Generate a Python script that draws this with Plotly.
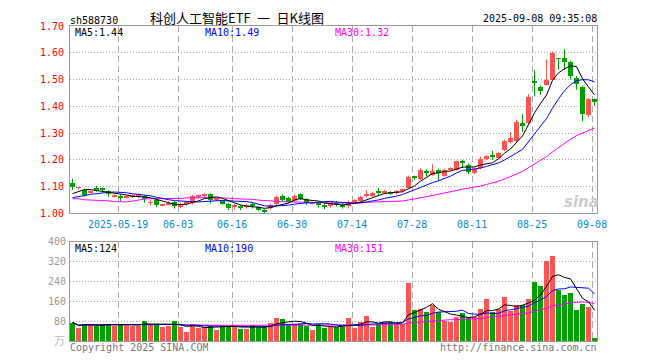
import plotly.graph_objects as go
import pandas as pd

# ---------------- data ----------------
dates = [
    "2025-05-07", "2025-05-08", "2025-05-09", "2025-05-12", "2025-05-13", "2025-05-14", "2025-05-15", "2025-05-16",
    "2025-05-19", "2025-05-20", "2025-05-21", "2025-05-22", "2025-05-23", "2025-05-26", "2025-05-27", "2025-05-28",
    "2025-05-29", "2025-05-30", "2025-06-03", "2025-06-04", "2025-06-05", "2025-06-06", "2025-06-09", "2025-06-10",
    "2025-06-11", "2025-06-12", "2025-06-13", "2025-06-16", "2025-06-17", "2025-06-18", "2025-06-19", "2025-06-20",
    "2025-06-23", "2025-06-24", "2025-06-25", "2025-06-26", "2025-06-27", "2025-06-30", "2025-07-01", "2025-07-02",
    "2025-07-03", "2025-07-04", "2025-07-07", "2025-07-08", "2025-07-09", "2025-07-10", "2025-07-11", "2025-07-14",
    "2025-07-15", "2025-07-16", "2025-07-17", "2025-07-18", "2025-07-21", "2025-07-22", "2025-07-23", "2025-07-24",
    "2025-07-25", "2025-07-28", "2025-07-29", "2025-07-30", "2025-07-31", "2025-08-01", "2025-08-04", "2025-08-05",
    "2025-08-06", "2025-08-07", "2025-08-08", "2025-08-11", "2025-08-12", "2025-08-13", "2025-08-14", "2025-08-15",
    "2025-08-18", "2025-08-19", "2025-08-20", "2025-08-21", "2025-08-22", "2025-08-25", "2025-08-26", "2025-08-27",
    "2025-08-28", "2025-08-29", "2025-09-01", "2025-09-02", "2025-09-03", "2025-09-04", "2025-09-05", "2025-09-08",
]

opens = [
    1.114, 1.095, 1.089, 1.079, 1.095, 1.090, 1.083, 1.062, 1.065, 1.061,
    1.062, 1.063, 1.065, 1.039, 1.049, 1.030, 1.034, 1.043, 1.023, 1.036,
    1.040, 1.063, 1.066, 1.073, 1.051, 1.048, 1.037, 1.025, 1.029, 1.026,
    1.034, 1.025, 1.008, 1.022, 1.034, 1.065, 1.059, 1.047, 1.071, 1.053,
    1.036, 1.036, 1.030, 1.026, 1.036, 1.030, 1.028, 1.045, 1.047, 1.068,
    1.065, 1.081, 1.080, 1.077, 1.078, 1.085, 1.096, 1.137, 1.129, 1.155,
    1.144, 1.162, 1.141, 1.165, 1.164, 1.197, 1.181, 1.151, 1.170, 1.202,
    1.215, 1.206, 1.238, 1.267, 1.270, 1.339, 1.338, 1.493, 1.472, 1.480,
    1.499, 1.579, 1.581, 1.567, 1.504, 1.472, 1.368, 1.426,
]
closes = [
    1.099, 1.097, 1.067, 1.081, 1.084, 1.088, 1.072, 1.064, 1.057, 1.063,
    1.064, 1.071, 1.053, 1.041, 1.031, 1.032, 1.039, 1.028, 1.035, 1.038,
    1.066, 1.066, 1.073, 1.050, 1.054, 1.037, 1.022, 1.027, 1.019, 1.029,
    1.029, 1.012, 1.006, 1.031, 1.063, 1.049, 1.044, 1.065, 1.055, 1.040,
    1.039, 1.033, 1.027, 1.038, 1.033, 1.027, 1.043, 1.047, 1.063, 1.071,
    1.077, 1.079, 1.083, 1.075, 1.080, 1.088, 1.136, 1.135, 1.163, 1.153,
    1.157, 1.150, 1.163, 1.167, 1.195, 1.189, 1.153, 1.165, 1.203, 1.214,
    1.212, 1.226, 1.270, 1.283, 1.341, 1.328, 1.436, 1.490, 1.457, 1.500,
    1.601, 1.577, 1.567, 1.512, 1.485, 1.372, 1.428, 1.417,
]
highs = [
    1.130, 1.099, 1.093, 1.087, 1.103, 1.097, 1.087, 1.071, 1.071, 1.068,
    1.071, 1.075, 1.068, 1.050, 1.053, 1.037, 1.045, 1.047, 1.040, 1.046,
    1.070, 1.071, 1.075, 1.075, 1.058, 1.050, 1.040, 1.035, 1.032, 1.035,
    1.042, 1.027, 1.016, 1.036, 1.066, 1.071, 1.062, 1.070, 1.075, 1.056,
    1.043, 1.043, 1.037, 1.042, 1.047, 1.040, 1.048, 1.053, 1.066, 1.087,
    1.080, 1.096, 1.088, 1.083, 1.087, 1.093, 1.141, 1.141, 1.169, 1.165,
    1.185, 1.167, 1.167, 1.173, 1.197, 1.200, 1.186, 1.173, 1.212, 1.217,
    1.234, 1.230, 1.275, 1.304, 1.350, 1.371, 1.445, 1.535, 1.478, 1.575,
    1.605, 1.580, 1.613, 1.570, 1.513, 1.477, 1.431, 1.429,
]
lows = [
    1.087, 1.090, 1.062, 1.074, 1.080, 1.078, 1.062, 1.059, 1.045, 1.057,
    1.058, 1.058, 1.040, 1.030, 1.023, 1.026, 1.030, 1.018, 1.020, 1.030,
    1.033, 1.055, 1.058, 1.037, 1.046, 1.033, 1.012, 1.015, 1.012, 1.018,
    1.018, 1.008, 1.001, 1.015, 1.030, 1.043, 1.040, 1.042, 1.050, 1.031,
    1.033, 1.022, 1.016, 1.022, 1.026, 1.018, 1.018, 1.040, 1.045, 1.059,
    1.062, 1.068, 1.074, 1.070, 1.070, 1.077, 1.092, 1.124, 1.125, 1.139,
    1.139, 1.122, 1.137, 1.160, 1.160, 1.169, 1.147, 1.147, 1.165, 1.198,
    1.200, 1.203, 1.232, 1.261, 1.264, 1.305, 1.330, 1.437, 1.443, 1.478,
    1.497, 1.537, 1.537, 1.500, 1.462, 1.344, 1.360, 1.402,
]
volumes = [
    75, 52, 69, 66, 62, 66, 69, 60, 69, 69,
    62, 62, 82, 69, 69, 56, 62, 82, 56, 38,
    70, 52, 56, 62, 46, 62, 62, 65, 49, 49,
    66, 56, 56, 75, 95, 91, 69, 69, 69, 62,
    46, 69, 52, 62, 55, 58, 94, 52, 79, 102,
    58, 69, 79, 79, 69, 69, 233, 126, 131, 118,
    146, 118, 82, 79, 98, 115, 98, 98, 130, 170,
    118, 130, 180, 120, 147, 147, 170, 240, 222, 325,
    345, 205, 185, 195, 126, 150, 138, 12,
]
# moving-average values at the left edge (history before the window)
ma5_head = [1.074, 1.083, 1.089, 1.089]
ma10_head = [1.059, 1.062, 1.067, 1.071, 1.074, 1.077, 1.079, 1.080, 1.079]
ma30_head = [1.055, 1.055, 1.051, 1.050, 1.050, 1.050, 1.047, 1.044, 1.043, 1.043,
             1.046, 1.050, 1.054, 1.055, 1.055, 1.055, 1.055, 1.055, 1.056, 1.058,
             1.059, 1.059, 1.059, 1.059, 1.059, 1.059, 1.057, 1.055, 1.055]

tick_dates = ["2025-05-19", "2025-06-03", "2025-06-16", "2025-06-30", "2025-07-14",
              "2025-07-28", "2025-08-11", "2025-08-25", "2025-09-08"]
tick_labels = ["2025-05-19", "06-03", "06-16", "06-30", "07-14", "07-28", "08-11", "08-25", "09-08"]
price_ticks = [1.00, 1.10, 1.20, 1.30, 1.40, 1.50, 1.60, 1.70]
vol_ticks = [80, 160, 240, 320, 400]

symbol = "sh588730"
title = "科创人工智能ETF\u2002一\u2002日K线图"
stamp = "2025-09-08 09:35:08"

# ---------------- styling ----------------
RED = "#ff5555"
GREEN = "#00a000"
MONO = "DejaVu Sans Mono"
CJK = "Noto Sans CJK SC"
GRID = "#aaaaaa"
BORDER = "#999999"

OFF = 8  # page body margin offset (screen px = figure px + OFF)
W, H = 660, 360
# plot area on screen: x 70..597, y 20..341
L, T = 70 - OFF, 20 - OFF
PW, PH = 527, 321
R, B = W - L - PW, H - T - PH


def P(px, py):
    fx, fy = px - OFF, py - OFF
    return (fx - L) / PW, (T + PH - fy) / PH


n = len(dates)
xs = list(range(n))
up = [c >= o for o, c in zip(opens, closes)]
colors = [RED if u else GREEN for u in up]


def ma(values, w, head=None):
    s = pd.Series(values, dtype=float)
    out = s.rolling(w, min_periods=1).mean().tolist()
    if head:
        for i, h in enumerate(head):
            out[i] = h
    return out


ma5 = ma(closes, 5, ma5_head)
ma10 = ma(closes, 10, ma10_head)
ma30 = ma(closes, 30, ma30_head)
vma5 = ma(volumes, 5)
vma10 = ma(volumes, 10)
vma30 = ma(volumes, 30)

fig = go.Figure()

# candle bodies
bases = [min(o, c) for o, c in zip(opens, closes)]
heights = [max(abs(c - o), 0.0035) for o, c in zip(opens, closes)]
fig.add_trace(go.Bar(x=xs, y=heights, base=bases, width=5 / 6,
                     marker=dict(color=colors, line=dict(width=0)),
                     xaxis="x", yaxis="y", hoverinfo="skip"))

# wicks
for flag, col in ((True, RED), (False, GREEN)):
    wx, wy = [], []
    for i in range(n):
        if up[i] == flag:
            wx += [i, i, None]
            wy += [lows[i], highs[i], None]
    fig.add_trace(go.Scatter(x=wx, y=wy, mode="lines", line=dict(color=col, width=1),
                             xaxis="x", yaxis="y", hoverinfo="skip"))

# price MAs
for vals, col in ((ma30, "#ff00ff"), (ma10, "#0000ff"), (ma5, "#000000")):
    fig.add_trace(go.Scatter(x=xs, y=vals, mode="lines", line=dict(color=col, width=1),
                             xaxis="x", yaxis="y", hoverinfo="skip"))

# volume
fig.add_trace(go.Bar(x=xs, y=volumes, width=5 / 6,
                     marker=dict(color=colors, line=dict(width=0)),
                     xaxis="x2", yaxis="y2", hoverinfo="skip"))
for vals, col in ((vma30, "#ff00ff"), (vma10, "#0000ff"), (vma5, "#000000")):
    fig.add_trace(go.Scatter(x=xs, y=vals, mode="lines", line=dict(color=col, width=1),
                             xaxis="x2", yaxis="y2", hoverinfo="skip"))

tickvals = [dates.index(d) - 0.4 for d in tick_dates]
r0 = -2.5 / 6
xr = [r0, r0 + PW / 6]

common_x = dict(range=xr, showline=True, linecolor=BORDER, linewidth=1, mirror=True,
                zeroline=False, tickvals=tickvals, ticks="",
                showgrid=True, gridcolor=GRID, gridwidth=1, griddash="6px,4px")
common_y = dict(showline=True, linecolor=BORDER, linewidth=1, mirror=True, zeroline=False,
                ticks="", showgrid=True, gridcolor=GRID, gridwidth=1, griddash="1px,2px")

price_dom = [(341 - 211) / PH, 1.0]
vol_dom = [0.0, (341 - 240) / PH]

fig.update_layout(
    width=W, height=H, autosize=False,
    margin=dict(l=L, r=R, t=T, b=B, pad=0),
    paper_bgcolor="white", plot_bgcolor="white",
    showlegend=False, barmode="overlay", bargap=0,
    xaxis=dict(**common_x, anchor="y", domain=[0, 1], ticktext=tick_labels,
               tickfont=dict(family=MONO, size=10, color="#0a8ad8"), ticklabelstandoff=2),
    yaxis=dict(**common_y, anchor="x", domain=price_dom, range=[price_ticks[0], price_ticks[-1]],
               tickvals=price_ticks, ticktext=[f"{v:.2f}" for v in price_ticks],
               tickfont=dict(family=MONO, size=10, color="#ff0000"), ticklabelstandoff=3),
    xaxis2=dict(**common_x, anchor="y2", domain=[0, 1], matches="x", showticklabels=False),
    yaxis2=dict(**common_y, anchor="x2", domain=vol_dom, range=[0, vol_ticks[-1]],
                tickvals=vol_ticks, ticktext=[str(v) for v in vol_ticks],
                tickfont=dict(family=MONO, size=10, color="#999999"), ticklabelstandoff=1),
)


def txt(px, py, s, color="#000000", size=10, family=MONO, xanchor="left", **kw):
    x, y = P(px, py)
    fig.add_annotation(x=x, y=y, xref="paper", yref="paper", text=s, showarrow=False,
                       xanchor=xanchor, yanchor="middle", borderpad=0,
                       font=dict(family=family, size=size, color=color), **kw)


txt(69, 14, symbol, height=12)
txt(237, 11.5, title, size=13, family=CJK, xanchor="center", height=15)
txt(598, 12, stamp, xanchor="right", height=12)

txt(74, 26.5, f"MA5:{ma5[-1]:.2f}", height=12)
txt(204, 26.5, f"MA10:{ma10[-1]:.2f}", color="#0000ff", height=12)
txt(334, 26.5, f"MA30:{ma30[-1]:.2f}", color="#ff00ff", height=12)

txt(74, 246, f"MA5:{vma5[-1]:.0f}", height=12)
txt(204, 246, f"MA10:{vma10[-1]:.0f}", color="#0000ff", height=12)
txt(334, 246, f"MA30:{vma30[-1]:.0f}", color="#ff00ff", height=12)

txt(66, 339, "万", color="#bbbbbb", size=11, family=CJK, xanchor="right", height=13)
txt(69, 347, "Copyright 2025 SINA.COM", color="#777777", height=12)
txt(598, 347, "http://finance.sina.com.cn", color="#777777", xanchor="right", height=12)
txt(581, 199, "<b><i>sina</i></b>", color="#cccccc", size=15, family="DejaVu Sans", xanchor="center")

fig.write_html("out.html")
